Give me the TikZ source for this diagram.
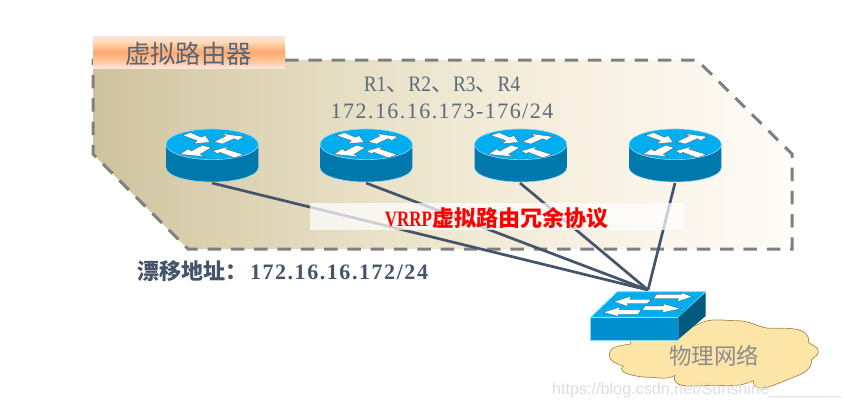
\documentclass[tikz,border=0pt]{standalone}
\usepackage{fontspec}
\setmainfont{Liberation Serif}
\newfontfamily\cjk{Noto Sans CJK SC}
\newfontfamily\latinsp[LetterSpace=6.6]{Liberation Serif}
\newfontfamily\latinfl[LetterSpace=7.1]{Liberation Serif}
\newfontfamily\latinnm[FakeStretch=.88]{Liberation Serif}
\newfontfamily\wmfont{Liberation Sans}
\definecolor{slate}{HTML}{44546A}
\definecolor{txtgray}{HTML}{5B6B7B}
\definecolor{dashgray}{HTML}{808080}
\definecolor{rtop}{HTML}{00AEEF}
\definecolor{rside}{HTML}{0078AC}
\definecolor{rrim}{HTML}{8ADCF8}
\definecolor{swfront}{HTML}{0090D0}
\definecolor{swside}{HTML}{005A80}
\definecolor{cloudfill}{HTML}{FDE5A8}
\definecolor{cloudline}{HTML}{A8884A}
\definecolor{HX1}{HTML}{CFC39E}
\definecolor{HX2}{HTML}{D6CBA9}
\definecolor{HX3}{HTML}{EBE4CC}
\definecolor{HX4}{HTML}{F8F1E2}
\definecolor{HX5}{HTML}{FEFCF8}
\definecolor{BN1}{HTML}{FDE3DE}
\definecolor{BN2}{HTML}{FFC79A}
\definecolor{BN3}{HTML}{FFA86E}
\definecolor{BN4}{HTML}{FFDDB8}
\pgfdeclarehorizontalshading{hexshade}{100bp}{
 color(0bp)=(HX1);color(25bp)=(HX1);color(30bp)=(HX2);color(47bp)=(HX3);color(60bp)=(HX4);color(75bp)=(HX5);color(100bp)=(HX5)}
\pgfdeclareverticalshading{bannershade}{100bp}{
 color(0bp)=(BN1);color(25bp)=(BN1);color(36bp)=(BN2);color(50bp)=(BN3);color(60bp)=(BN2);color(66bp)=(BN4);color(75bp)=(BN1);color(100bp)=(BN1)}
\tikzset{
  link/.style={draw=slate,line width=2.7pt},
  arrowpoly/.style={fill=white,draw=black!70,line width=.25pt},
  lbl/.style={inner sep=0pt,outer sep=0pt,anchor=center},
  pics/router/.style={code={
    \begin{scope}[x=1/3*1pt,y=-1/3*1pt,shift={(-394,-358)}]
      \fill[rside] (256,360) -- (256,428) arc[start angle=180,end angle=0,x radius=138.5,y radius=43] -- (533,360) -- cycle;
      \draw[rrim,line width=.5pt] (256,428) arc[start angle=180,end angle=0,x radius=138.5,y radius=43];
      \fill[rtop,draw=rrim,line width=.6pt] (394.5,358) ellipse[x radius=138.5,y radius=46];
      \path[arrowpoly] (305,331) -- (330,323) -- (362,337) -- (374,332) -- (388,352) -- (340,356) -- (350,347) -- cycle;
      \path[arrowpoly] (490,335) -- (425,326) -- (436,333) -- (400,350) -- (425,357) -- (460,341) -- (472,346) -- cycle;
      \path[arrowpoly] (298,388) -- (372,395) -- (358,388) -- (391,368) -- (365,361) -- (332,378) -- (322,372) -- cycle;
      \path[arrowpoly] (396,378) -- (445,364) -- (435,372) -- (488,389) -- (460,398) -- (418,382) -- (410,386) -- cycle;
    \end{scope}
  }}
}
\begin{document}
\begin{tikzpicture}[x=1pt,y=-1pt]
\useasboundingbox (0,0) rectangle (845,408);
\fill[white] (0,0) rectangle (845,408);

% shaded body of the virtual router group
\shade[shading=hexshade] (93,60) -- (697,60) -- (792,154) -- (792,249) -- (188,249) -- (93,154) -- cycle;
\draw[dashgray,line width=3pt,dash pattern=on 13.5pt off 9.8pt]
  (285,60) -- (697,60) -- (792,154) -- (792,249) -- (188,249) -- (93,154) -- (93,60) -- (285,60);

% named anchors
\coordinate (r1) at (212,183);
\coordinate (r2) at (366,183);
\coordinate (r3) at (520,183);
\coordinate (r4) at (675,183);
\coordinate (sw) at (648,290);

% links
\draw[link] (r1) -- (sw);
\draw[link] (r2) -- (sw);
\draw[link] (r3) -- (sw);
\draw[link] (r4) -- (sw);

% translucent band
\fill[white,opacity=.72] (310,203) rectangle (684,230);

% routers
\pic at (212,144.3) {router};
\pic at (366,144.3) {router};
\pic at (520.5,144.3) {router};
\pic at (675,144.3) {router};

% banner
\shade[shading=bannershade] (93,36) rectangle (285,68);
\node[lbl,text=slate!90] (title) at (188.5,54) {\fontsize{25.4}{25.4}\selectfont\cjk 虚拟路由器};

% labels
\node[lbl,text=txtgray] (names) at (442,85) {\fontsize{22}{22}\selectfont\latinnm R1{\cjk\fontsize{22}{22}\selectfont 、}R2{\cjk\fontsize{22}{22}\selectfont 、}R3{\cjk\fontsize{22}{22}\selectfont 、}R4};
\node[lbl,text=txtgray] (addr) at (442,111) {\fontsize{22}{22}\selectfont\latinsp 172.16.16.173-176/24};
\node[lbl,text=red] (vrrp) at (496.5,218) {\fontsize{22}{22}\selectfont\scalebox{.77}[1]{\bfseries VRRP}{\cjk\bfseries 虚拟路由冗余协议}};
\node[lbl,anchor=west,text=slate] (float) at (137,271) {\fontsize{22}{22}\selectfont{\cjk\bfseries 漂移地址：}\hspace{3pt}\bfseries\latinfl 172.16.16.172/24};

% cloud and switch
\begin{scope}[x=1/3*1pt,y=-1/3*1pt,shift={(1620,780)}]
  \draw[fill=cloudfill,draw=cloudline,line width=.7pt]
    (272,252) to[out=190,in=90] (208,285)
    to[out=-90,in=160] (250,318)
    to[out=220,in=180] (330,352)
    to[out=0,in=210] (405,346)
    to[out=250,in=180] (520,376)
    to[out=0,in=205] (640,362)
    to[out=270,in=200] (765,350)
    to[out=20,in=270] (815,300)
    to[out=60,in=270] (835,275)
    to[out=90,in=-40] (805,247)
    to[out=80,in=0] (685,205)
    to[out=170,in=0] (590,182)
    to[out=180,in=30] (470,195)
    -- (272,240) -- cycle;
  \fill[rtop,draw=rrim,line width=.7pt] (152,172) -- (232,95) -- (497,95) -- (415,172) -- cycle;
  \fill[swfront,draw=rrim,line width=.7pt] (152,172) -- (415,172) -- (415,240) -- (152,240) -- cycle;
  \fill[swside] (415,172) -- (497,97) -- (497,168) -- (415,238) -- cycle;
  \path[arrowpoly] (222,125) -- (276,108) -- (268,118) -- (333,118) -- (322,131) -- (262,131) -- (264,139) -- cycle;
  \path[arrowpoly] (456,110) -- (422,97) -- (426,103) -- (350,103) -- (340,116) -- (416,116) -- (412,125) -- cycle;
  \path[arrowpoly] (190,157) -- (244,140) -- (236,149) -- (303,150) -- (294,163) -- (234,163) -- (236,169) -- cycle;
  \path[arrowpoly] (422,146) -- (368,131) -- (372,138) -- (316,138) -- (306,150) -- (370,150) -- (366,158) -- cycle;
  \node[lbl,text=black!45] (phys) at (523,287) {\fontsize{22.5}{22.5}\selectfont\cjk 物理网络};
\end{scope}

% watermark
\node[lbl,anchor=west,text=black!13] (wm) at (552,390) {\fontsize{16.2}{16.2}\selectfont\wmfont https://blog.csdn.net/Sunshine\_\_\_\_\_\_\_\_};
\end{tikzpicture}
\end{document}
